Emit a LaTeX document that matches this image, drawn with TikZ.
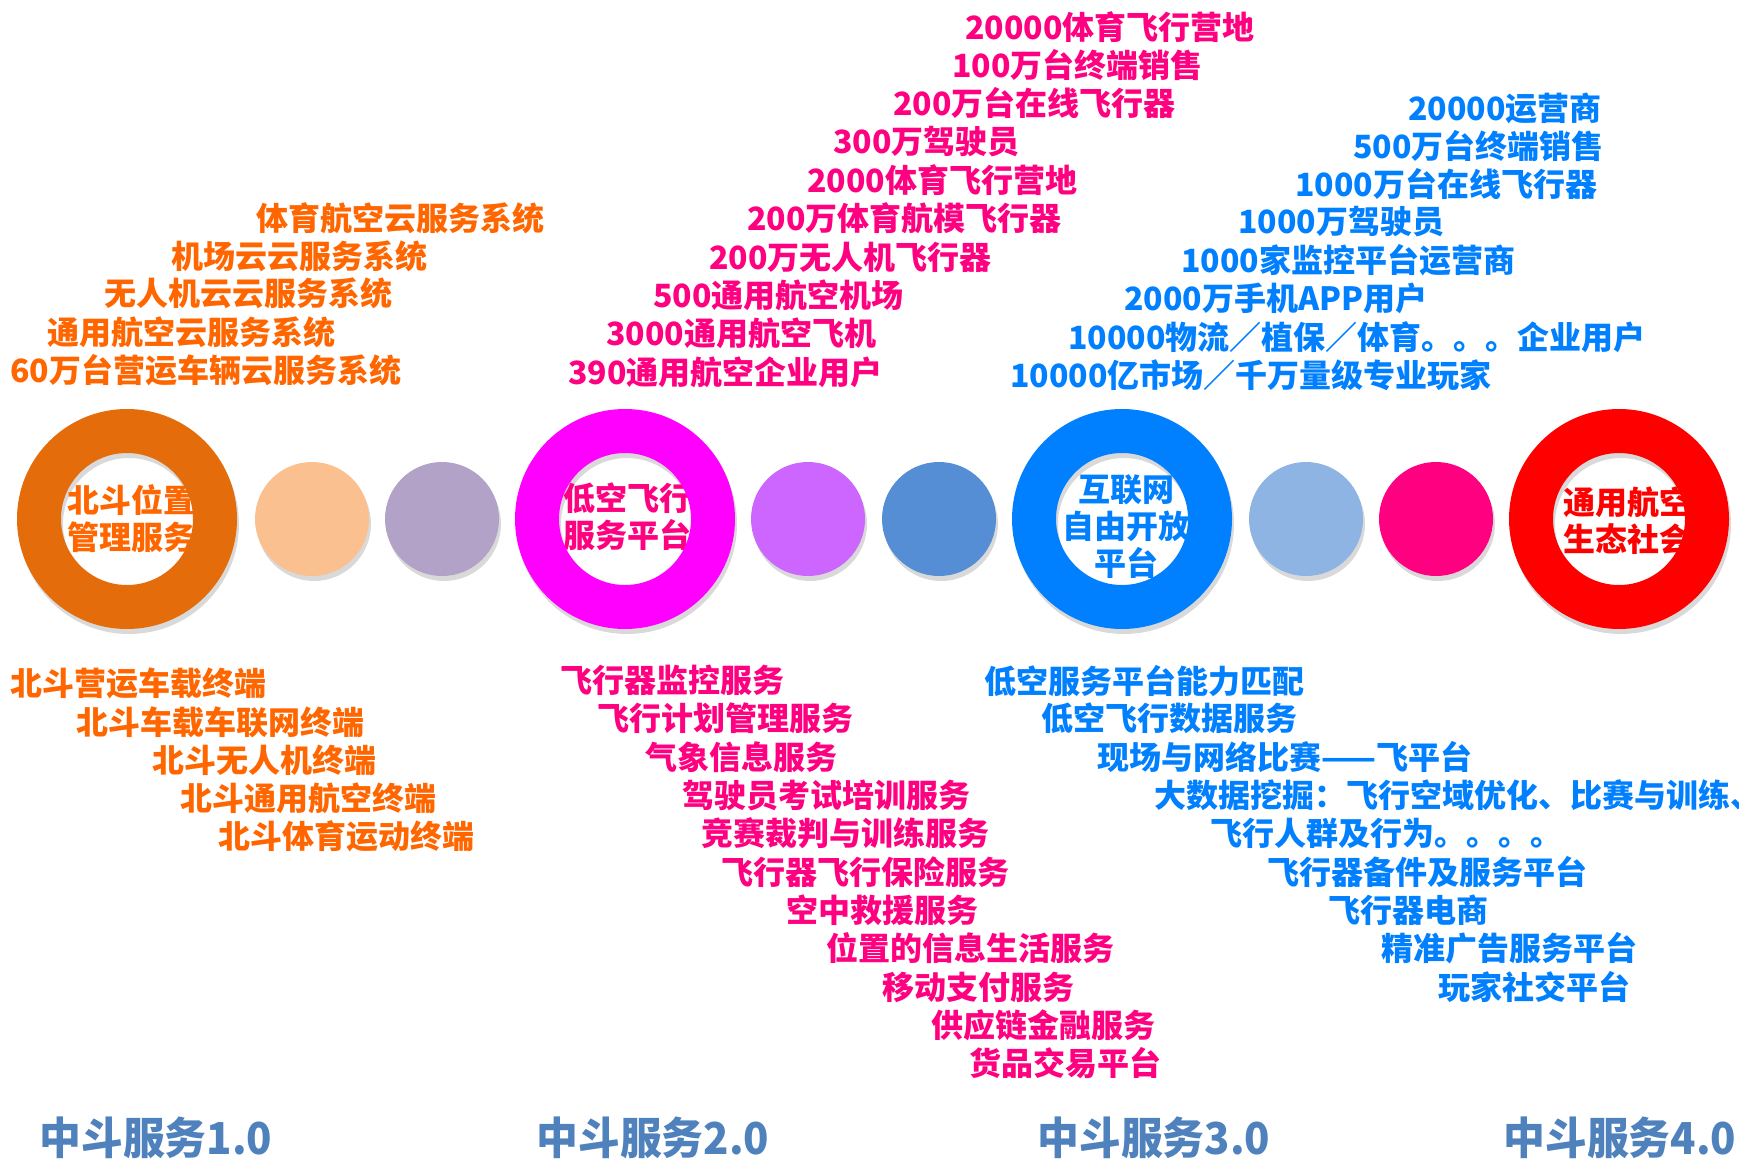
\documentclass[tikz,border=0pt]{standalone}
\usepackage{fontspec}
\newfontfamily\cjk{Noto Sans CJK SC}
\newfontfamily\cjknarrow{Noto Sans CJK SC}[FakeStretch=0.95]
\usetikzlibrary{shadows}

\definecolor{ringorange}{HTML}{E46C0A}
\definecolor{txtorange}{HTML}{FF6600}
\definecolor{peach}{HTML}{FAC090}
\definecolor{lilac}{HTML}{B3A2C7}
\definecolor{ringmagenta}{HTML}{FF00FF}
\definecolor{txtpink}{HTML}{FF0080}
\definecolor{mauve}{HTML}{CC66FF}
\definecolor{midblue}{HTML}{558ED5}
\definecolor{ringblue}{HTML}{0080FF}
\definecolor{paleblue}{HTML}{8EB4E3}
\definecolor{ringred}{HTML}{FF0000}
\definecolor{stageblue}{HTML}{4F81BD}

\newcommand{\itemfont}{\cjk\bfseries\fontsize{16}{18.5}\selectfont}
\newcommand{\stagefont}{\cjknarrow\bfseries\fontsize{22}{24}\selectfont}

\tikzset{
  item/.style={anchor=west, inner sep=0pt, font=\itemfont},
  hub/.style={align=center, inner sep=0pt, font=\itemfont},
  stage/.style={anchor=west, inner sep=0pt, font=\stagefont, text=stageblue},
  softshadow/.style={drop shadow={shadow xshift=1pt, shadow yshift=-2.5pt, opacity=.3}},
  ringshade/.style={fill=black!50, opacity=.3, even odd rule},
  ringfill/.style={fill=#1, even odd rule},
  dotfill/.style={fill=#1, softshadow},
}

\begin{document}
\begin{tikzpicture}[x=0.5pt,y=-0.5pt]
    \useasboundingbox (0,0) rectangle (1739,1161);
    % centres of the rings
    \coordinate (r1) at (127,519);
    \coordinate (r2) at (625,519);
    \coordinate (r3) at (1122,519);
    \coordinate (r4) at (1619,519);
    % ring shadows
    \foreach \r in {r1,r2,r3,r4}
      \fill[ringshade] ([shift={(2,5)}]\r) circle (110) circle (66);
    % text inside the rings, under the rings
    \node[hub, text=txtorange] (hub1) at (131,519) {北斗位置\\管理服务};
    \node[hub, text=txtpink] (hub2) at (627,517) {低空飞行\\服务平台};
    \node[hub, text=ringblue] (hub3) at (1126,527) {互联网\\自由开放\\平台};
    \node[hub, text=ringred] (hub4) at (1627,521) {通用航空\\生态社会};
    % rings
    \path[ringfill=ringorange] (r1) circle (110) circle (66);
    \path[ringfill=ringmagenta] (r2) circle (110) circle (66);
    \path[ringfill=ringblue] (r3) circle (110) circle (66);
    \path[ringfill=ringred] (r4) circle (110) circle (66);
    % dots
    \path[dotfill=peach] (312,519) circle (57);
    \path[dotfill=lilac] (442,519) circle (57);
    \path[dotfill=mauve] (808,519) circle (57);
    \path[dotfill=midblue] (939,519) circle (57);
    \path[dotfill=paleblue] (1306,519) circle (57);
    \path[dotfill=txtpink] (1436,519) circle (57);

    % 1.0
    \node[item, text=txtorange] (os1) at (256,218) {体育航空云服务系统};
    \node[item, text=txtorange] (os2) at (171,256) {机场云云服务系统};
    \node[item, text=txtorange] (os3) at (104,293) {无人机云云服务系统};
    \node[item, text=txtorange] (os4) at (47,332) {通用航空云服务系统};
    \node[item, text=txtorange] (os5) at (10,370) {60万台营运车辆云服务系统};
    \node[item, text=txtorange] (ot1) at (10,683) {北斗营运车载终端};
    \node[item, text=txtorange] (ot2) at (76,722) {北斗车载车联网终端};
    \node[item, text=txtorange] (ot3) at (152,760) {北斗无人机终端};
    \node[item, text=txtorange] (ot4) at (180,798) {北斗通用航空终端};
    \node[item, text=txtorange] (ot5) at (218,836) {北斗体育运动终端};

    % 2.0
    \node[item, text=txtpink] (ps1) at (965,27) {20000体育飞行营地};
    \node[item, text=txtpink] (ps2) at (952,65) {100万台终端销售};
    \node[item, text=txtpink] (ps3) at (893,103) {200万台在线飞行器};
    \node[item, text=txtpink] (ps4) at (833,142) {300万驾驶员};
    \node[item, text=txtpink] (ps5) at (807,180) {2000体育飞行营地};
    \node[item, text=txtpink] (ps6) at (747,218) {200万体育航模飞行器};
    \node[item, text=txtpink] (ps7) at (709,257) {200万无人机飞行器};
    \node[item, text=txtpink] (ps8) at (653,295) {500通用航空机场};
    \node[item, text=txtpink] (ps9) at (606,333) {3000通用航空飞机};
    \node[item, text=txtpink] (ps10) at (568,372) {390通用航空企业用户};
    \node[item, text=txtpink] (pt1) at (560,680) {飞行器监控服务};
    \node[item, text=txtpink] (pt2) at (597,718) {飞行计划管理服务};
    \node[item, text=txtpink] (pt3) at (645,757) {气象信息服务};
    \node[item, text=txtpink] (pt4) at (682,795) {驾驶员考试培训服务};
    \node[item, text=txtpink] (pt5) at (701,833) {竞赛裁判与训练服务};
    \node[item, text=txtpink] (pt6) at (721,872) {飞行器飞行保险服务};
    \node[item, text=txtpink] (pt7) at (786,910) {空中救援服务};
    \node[item, text=txtpink] (pt8) at (826,948) {位置的信息生活服务};
    \node[item, text=txtpink] (pt9) at (882,987) {移动支付服务};
    \node[item, text=txtpink] (pt10) at (931,1025) {供应链金融服务};
    \node[item, text=txtpink] (pt11) at (969,1063) {货品交易平台};

    % 3.0
    \node[item, text=ringblue] (bs1) at (1408,108) {20000运营商};
    \node[item, text=ringblue] (bs2) at (1353,146) {500万台终端销售};
    \node[item, text=ringblue] (bs3) at (1295,184) {1000万台在线飞行器};
    \node[item, text=ringblue] (bs4) at (1238,222) {1000万驾驶员};
    \node[item, text=ringblue] (bs5) at (1181,260) {1000家监控平台运营商};
    \node[item, text=ringblue] (bs6) at (1124,298) {2000万手机APP用户};
    \node[item, text=ringblue] (bs7) at (1068,337) {10000物流／植保／体育。。。企业用户};
    \node[item, text=ringblue] (bs8) at (1010,375) {10000亿市场／千万量级专业玩家};
    \node[item, text=ringblue] (bt1) at (984,681) {低空服务平台能力匹配};
    \node[item, text=ringblue] (bt2) at (1041,718) {低空飞行数据服务};
    \node[item, text=ringblue] (bt3) at (1097,757) {现场与网络比赛——飞平台};
    \node[item, text=ringblue] (bt4) at (1154,795) {大数据挖掘：飞行空域优化、比赛与训练、};
    \node[item, text=ringblue] (bt5) at (1210,833) {飞行人群及行为。。。。};
    \node[item, text=ringblue] (bt6) at (1267,872) {飞行器备件及服务平台};
    \node[item, text=ringblue] (bt7) at (1328,910) {飞行器电商};
    \node[item, text=ringblue] (bt8) at (1381,948) {精准广告服务平台};
    \node[item, text=ringblue] (bt9) at (1438,987) {玩家社交平台};

    % stages
    \node[stage] (st1) at (39,1138) {中斗服务1.0};
    \node[stage] (st2) at (536,1138) {中斗服务2.0};
    \node[stage] (st3) at (1037,1138) {中斗服务3.0};
    \node[stage] (st4) at (1503,1138) {中斗服务4.0};
\end{tikzpicture}
\end{document}
